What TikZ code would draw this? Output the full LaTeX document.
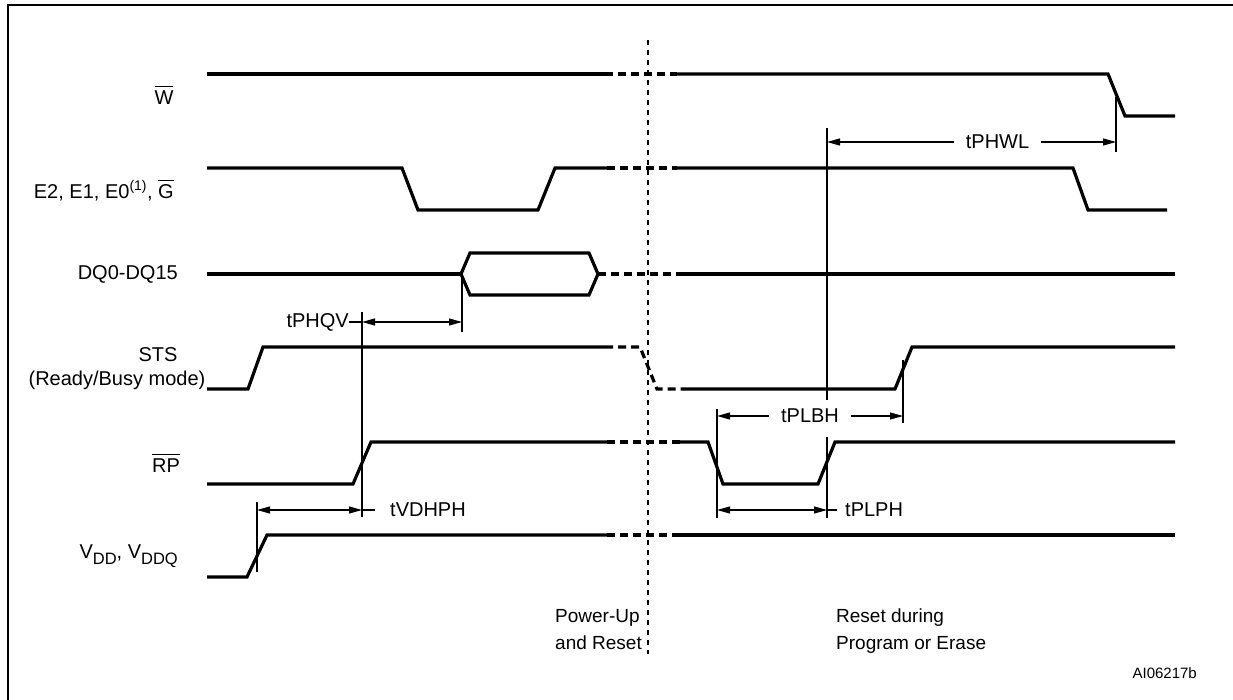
\documentclass[tikz,border=0pt]{standalone}
\usepackage{fontspec}
\setmainfont{Liberation Sans}
\usetikzlibrary{arrows.meta}
\newcommand{\ovbar}[1]{$\overline{\mbox{#1\rule{0pt}{0.86em}}}$}
\newcommand{\lowsub}[1]{\raisebox{-0.28em}{\fontsize{16.5}{16.5}\selectfont #1}}
\begin{document}
\begin{tikzpicture}[x=1pt,y=-1pt,
  sig/.style={line width=3.2pt, line join=miter},
  sigdash/.style={line width=3.2pt, dash pattern=on 8pt off 5pt},
  tick/.style={line width=1.1pt},
  dimarrow/.style={line width=1.1pt, {Triangle[length=13pt,width=7pt]}-{Triangle[length=13pt,width=7pt]}},
  lbl/.style={font=\fontsize{20}{24}\selectfont, inner sep=0pt},
  caplbl/.style={font=\fontsize{19}{23}\selectfont, inner sep=0pt},
  gaplbl/.style={font=\fontsize{20}{24}\selectfont, fill=white, inner xsep=12pt, inner ysep=2pt},
]
\useasboundingbox (0,0) rectangle (1233,700);
% frame
\draw[line width=2.6pt] (1233,5) -- (8,5) -- (8,700);
% centre break line
\draw[line width=1.1pt, dash pattern=on 5pt off 5pt] (648,40) -- (648,654);

% W
\draw[sig] (207,74) -- (605,74);
\draw[sigdash] (605,74) -- (677,74);
\draw[sig] (677,74) -- (1108,74) -- (1125,116) -- (1175,116);
% E2 E1 E0 G
\draw[sig] (207,168) -- (402,168) -- (418,210) -- (538,210) -- (555,168) -- (607,168);
\draw[sigdash] (607,168) -- (677,168);
\draw[sig] (677,168) -- (1073,168) -- (1088,210) -- (1167,210);
% DQ
\draw[sig] (207,274) -- (461,274);
\draw[sig] (461,274) -- (470,253) -- (589,253) -- (598,274) -- (589,295) -- (470,295) -- cycle;
\draw[sigdash] (598,274) -- (677,274);
\draw[sig] (677,274) -- (1175,274);
% STS
\draw[sig] (207,389) -- (248,389) -- (263,347) -- (605,347);
\draw[sigdash] (605,347) -- (640,347) -- (657,389) -- (683,389);
\draw[sig] (683,389) -- (895,389) -- (912,347) -- (1175,347);
% RP
\draw[sig] (207,484) -- (353,484) -- (371,442) -- (607,442);
\draw[sigdash] (607,442) -- (680,442);
\draw[sig] (680,442) -- (708,442) -- (723,484) -- (818,484) -- (835,442) -- (1175,442);
% VDD
\draw[sig] (207,577) -- (247,577) -- (267,535) -- (607,535);
\draw[sigdash] (607,535) -- (680,535);
\draw[sig] (680,535) -- (1175,535);

% timing ticks
\coordinate (tw1) at (827,142);
\coordinate (tw2) at (1116,142);
\coordinate (tq1) at (362,322);
\coordinate (tq2) at (462,322);
\coordinate (tb1) at (717,416);
\coordinate (tb2) at (903,416);
\coordinate (tv1) at (257,510);
\coordinate (tv2) at (362,510);
\coordinate (tp1) at (717,510);
\coordinate (tp2) at (827,510);
\draw[tick] (827,128) -- (827,400);
\draw[tick] (1116,97) -- (1116,152);
\draw[tick] (462,274) -- (462,332);
\draw[tick] (362,312) -- (362,517);
\draw[tick] (257,502) -- (257,572);
\draw[tick] (717,409) -- (717,518);
\draw[tick] (827,437) -- (827,518);
\draw[tick] (903,360) -- (903,423);

% timing arrows
\draw[dimarrow] (tw1) -- node[gaplbl, pos=0.59] (ltw) {tPHWL} (tw2);
\draw[dimarrow] (tb1) -- node[gaplbl, pos=0.50] (ltb) {tPLBH} (tb2);
\draw[dimarrow] (tq1) -- (tq2);
\node[lbl, anchor=east] (ltq) at (349,322) {tPHQV};
\draw[tick] (ltq.east) -- (tq1);
\draw[dimarrow] (tv1) -- (tv2);
\node[lbl, anchor=west] (ltv) at (390,510) {tVDHPH};
\draw[tick] (tv2) -- ++(13,0) coordinate (tv3);
\draw[dimarrow] (tp1) -- (tp2);
\node[lbl, anchor=west] (ltp) at (845,510) {tPLPH};
\draw[tick] (tp2) -- ++(10,0) coordinate (tp3);

% signal labels
\node[lbl] (nw) at (164,95) {\ovbar{W}};
\node[lbl, anchor=east] (ne) at (174,190) {E2, E1, E0\textsuperscript{(1)}, \ovbar{G}};
\node[lbl, anchor=east] (ndq) at (178,274) {DQ0-DQ15};
\node[lbl] (nsts) at (158,355) {STS};
\node[lbl] (nrb) at (117,380) {(Ready/Busy mode)};
\node[lbl] (nrp) at (166,463) {\ovbar{RP}};
\node[lbl, anchor=east] (nvdd) at (178,556) {V\lowsub{DD}, V\lowsub{DDQ}};

% phase captions
\node[caplbl, anchor=base west] (cap1a) at (555,622) {Power-Up};
\node[caplbl, anchor=base west] (cap1b) at (555,649) {and Reset};
\node[caplbl, anchor=base west] (cap2a) at (836,622) {Reset during};
\node[caplbl, anchor=base west] (cap2b) at (836,649) {Program or Erase};
\node[font=\fontsize{15}{18}\selectfont, inner sep=0pt, anchor=east] (fid) at (1197,673) {AI06217b};
\end{tikzpicture}
\end{document}
